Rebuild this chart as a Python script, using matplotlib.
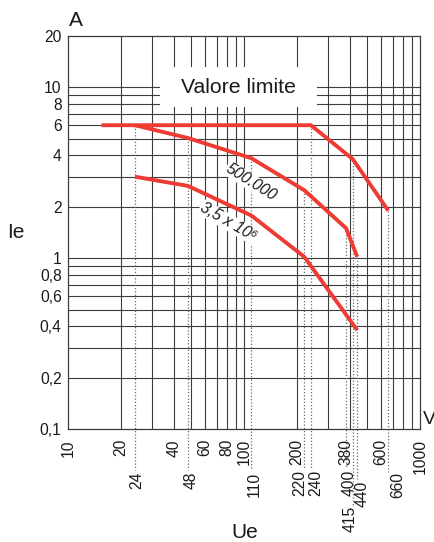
import matplotlib
matplotlib.use('Agg')
import matplotlib.pyplot as plt
from matplotlib import font_manager
from matplotlib.patches import Rectangle
import numpy as np

names = {f.name for f in font_manager.fontManager.ttflist}
NARROW = 'Liberation Sans Narrow' in names
FONT = 'Liberation Sans Narrow' if NARROW else 'Liberation Sans'
plt.rcParams['font.family'] = [FONT, 'DejaVu Sans']
SCALE = 1.0 if NARROW else 0.9

# ---------------- data ----------------
curve_limit_x = [15.5, 240, 415, 660]
curve_limit_y = [6.0, 6.0, 3.8, 1.9]
curve_500k_x = [24, 48, 110, 220, 380, 440]
curve_500k_y = [6.0, 5.05, 3.85, 2.5, 1.5, 1.02]
curve_35m_x = [24, 48, 110, 220, 440]
curve_35m_y = [3.0, 2.65, 1.78, 1.02, 0.38]

x_ticks = [10, 20, 40, 60, 80, 100, 200, 380, 600, 1000]
x_ticklabels = ['10', '20', '40', '60', '80', '100', '200', '380', '600', '1000']
y_ticks = [0.1, 0.2, 0.4, 0.6, 0.8, 1, 2, 4, 6, 8, 10, 20]
y_ticklabels = ['0,1', '0,2', '0,4', '0,6', '0,8', '1', '2', '4', '6', '8', '10', '20']

voltage_marks = [24, 48, 110, 220, 240, 380, 415, 440, 660]
voltage_labels = ['24', '48', '110', '220', '240', '400', '415', '440', '660']

x_grid = [20, 30, 40, 50, 60, 70, 80, 90, 100, 200, 300, 400, 500, 600, 700, 800, 900]
y_grid = [0.2, 0.3, 0.4, 0.5, 0.6, 0.7, 0.8, 0.9, 1, 2, 3, 4, 5, 6, 7, 8, 9, 10]

# ---------------- layout ----------------
W, H = 435, 542
fig = plt.figure(figsize=(W / 100, H / 100), dpi=100)
AX_L, AX_R, AX_T, AX_B = 68, 420, 35.8, 429.3
ax = fig.add_axes([AX_L / W, 1 - AX_B / H, (AX_R - AX_L) / W, (AX_B - AX_T) / H])
ax.set_xscale('log')
ax.set_yscale('log')
XLIM, YLIM = (10, 1000), (0.1, 20)
ax.set_xlim(*XLIM)
ax.set_ylim(*YLIM)

def y_at_px(py):
    l0, l1 = np.log10(YLIM[0]), np.log10(YLIM[1])
    return 10 ** (l0 + (AX_B - py) / (AX_B - AX_T) * (l1 - l0))

GRID_C = '#3c3c3c'
TXT_C = '#1a1a1a'
for v in x_grid:
    ax.axvline(v, color=GRID_C, lw=0.8, zorder=1)
for v in y_grid:
    ax.axhline(v, color=GRID_C, lw=0.8, zorder=1)
for s in ax.spines.values():
    s.set_color(GRID_C)
    s.set_linewidth(0.9)

# white box with "Valore limite"
ax.add_patch(Rectangle((33.4, 7.67), 260 - 33.4, 13.2 - 7.67, facecolor='white',
                       edgecolor='none', zorder=2.5))
ax.text(92.5, 10.0, 'Valore limite', fontsize=17 * SCALE, ha='center', va='center',
        color=TXT_C, zorder=3)

# dotted voltage markers
vertices = list(zip(curve_limit_x, curve_limit_y)) + list(zip(curve_500k_x, curve_500k_y)) + \
    list(zip(curve_35m_x, curve_35m_y))
dot_bottom_px = [470, 470, 470, 468, 468, 468, 505, 479, 472]
for xm, pb in zip(voltage_marks, dot_bottom_px):
    top = max(y for (xv, y) in vertices if xv == xm)
    ax.plot([xm, xm], [top, y_at_px(pb)], color='#6a6a6a', lw=0.9,
            linestyle=(0, (1, 1.6)), zorder=1.5, clip_on=False)

# red curves
RED = '#ee3b33'
for xs, ys in [(curve_limit_x, curve_limit_y), (curve_500k_x, curve_500k_y),
               (curve_35m_x, curve_35m_y)]:
    ax.plot(xs, ys, color=RED, lw=2.8, zorder=4, solid_capstyle='butt',
            solid_joinstyle='miter')

# curve labels
ax.text(109.6, 2.79, '500.000', fontsize=12.5 * SCALE, style='italic', rotation=-32,
        ha='center', va='center', color=TXT_C, zorder=3,
        bbox=dict(facecolor='white', edgecolor='none', pad=0.5))
ax.text(81.1, 1.63, '3,5 x 10\u2076', fontsize=12.5 * SCALE, style='italic', rotation=-30,
        ha='center', va='center', color=TXT_C, zorder=3,
        bbox=dict(facecolor='white', edgecolor='none', pad=0.5))

# ticks
TICK_FS = 12.5 * SCALE
ax.set_xticks(x_ticks)
ax.set_xticklabels(x_ticklabels, rotation=90, fontsize=TICK_FS, color=TXT_C)
ax.set_yticks(y_ticks)
ax.set_yticklabels(y_ticklabels, fontsize=TICK_FS, color=TXT_C)
ax.xaxis.set_minor_locator(matplotlib.ticker.NullLocator())
ax.yaxis.set_minor_locator(matplotlib.ticker.NullLocator())
ax.tick_params(axis='x', length=0, pad=7)
ax.tick_params(axis='y', length=0, pad=4.5)

# second row voltage labels
label_pos = [(136.7, 472), (191, 472), (254, 472), (300, 470), (316, 470),
             (349, 470), (350, 506), (362, 481), (398, 472)]
for lab, (px, py) in zip(voltage_labels, label_pos):
    fig.text(px / W, 1 - py / H, lab, rotation=90, fontsize=TICK_FS, ha='center',
             va='top', color=TXT_C)

# axis titles
fig.text(76 / W, 1 - 20 / H, 'A', fontsize=15, ha='center', va='center', color=TXT_C)
fig.text(16 / W, 1 - 232 / H, 'Ie', fontsize=15, ha='center', va='center', color=TXT_C)
fig.text(245 / W, 1 - 532 / H, 'Ue', fontsize=15, ha='center', va='center', color=TXT_C)
fig.text(423 / W, 1 - 420 / H, 'V', fontsize=14, ha='left', va='center', color=TXT_C)

fig.savefig('out.png', dpi=100)
